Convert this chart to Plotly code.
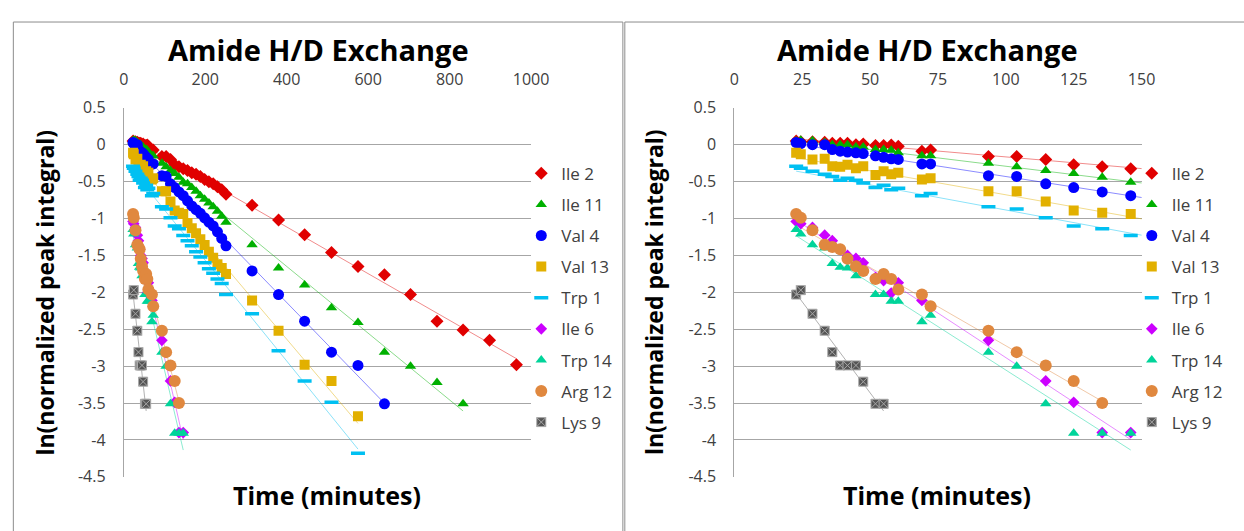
import numpy as np
import plotly.graph_objects as go

# ---------------- data ----------------
series_names = ["Ile 2", "Ile 11", "Val 4", "Val 13", "Trp 1", "Ile 6", "Trp 14", "Arg 12", "Lys 9"]

t_early = [22.8, 24.5, 28.8, 33.3, 36.1, 39.0, 41.7, 44.8, 47.5, 52.0, 55.0, 57.8, 60.4, 69.1, 72.3]
t_mid = [93.6, 104.0, 114.7, 125.0, 135.5, 146.0]
t_dense = [156.5, 167.0, 177.5, 188.0, 198.5, 209.0, 219.5, 230.0, 240.5, 251.0]
t_late = [315, 380, 444, 510, 575, 640, 704, 769, 833, 898, 964]

ile2_vals = [0.05, 0.04, 0.04, 0.035, 0.02, 0.02, 0.02, 0.0, 0.01, -0.01, -0.01, -0.005, -0.02, -0.09, -0.07,
             -0.16, -0.16, -0.20, -0.27, -0.30, -0.325,
             -0.35, -0.38, -0.40, -0.43, -0.47, -0.50, -0.53, -0.57, -0.61, -0.67,
             -0.82, -1.02, -1.22, -1.46, -1.65, -1.76, -2.03, -2.39, -2.51, -2.65, -2.98]
ile11_vals = [0.05, 0.06, 0.055, 0.03, 0.0, 0.0, 0.0, -0.03, -0.03, -0.065, -0.065, -0.075, -0.11, -0.15, -0.15,
              -0.25, -0.30, -0.35, -0.39, -0.44, -0.51,
              -0.53, -0.58, -0.63, -0.69, -0.74, -0.79, -0.84, -0.90, -0.97, -1.05,
              -1.355, -1.67, -1.90, -2.21, -2.41, -2.81, -3.00, -3.22, -3.51]
val4_vals = [0.03, 0.015, 0.0, 0.0, -0.065, -0.087, -0.10, -0.11, -0.12, -0.15, -0.17, -0.19, -0.20, -0.26, -0.26,
             -0.42, -0.43, -0.53, -0.58, -0.64, -0.69,
             -0.76, -0.83, -0.88, -0.93, -0.99, -1.05, -1.10, -1.18, -1.27, -1.37,
             -1.71, -2.03, -2.39, -2.81, -2.99, -3.51]
val13_vals = [-0.11, -0.13, -0.20, -0.19, -0.29, -0.30, -0.27, -0.32, -0.29, -0.41, -0.36, -0.40, -0.38, -0.47, -0.455,
              -0.63, -0.63, -0.77, -0.89, -0.92, -0.94,
              -1.06, -1.13, -1.20, -1.28, -1.36, -1.45, -1.53, -1.62, -1.67, -1.75,
              -2.11, -2.52, -2.98, -3.20, -3.68]
trp1_vals = [-0.29, -0.32, -0.36, -0.40, -0.43, -0.48, -0.455, -0.48, -0.52, -0.58, -0.55, -0.61, -0.59, -0.69, -0.66,
             -0.84, -0.87, -0.99, -1.10, -1.14, -1.23,
             -1.30, -1.37, -1.45, -1.52, -1.60, -1.68, -1.74, -1.82, -1.88, -2.03,
             -2.29, -2.79, -3.20, -3.49, -4.18]
ile6_vals = [-1.04, -1.07, -1.12, -1.225, -1.30, -1.42, -1.50, -1.54, -1.60, -1.80, -1.84, -2.01, -1.87, -2.11, -2.20,
             -2.65, None, -3.20, -3.49, -3.90, -3.90]
trp14_vals = [-1.15, -1.21, -1.355, -1.40, -1.61, -1.66, -1.67, -1.775, None, -2.03, -2.03, -2.12, -2.12, -2.40, -2.31,
              -2.81, -3.00, -3.51, -3.91, -3.91, -3.91]
arg12_vals = [-0.94, -0.99, -1.16, -1.355, -1.385, -1.415, -1.545, -1.645, -1.71, -1.82, -1.75, -1.82, -1.96, -2.03, -2.19,
              -2.52, -2.81, -2.99, -3.20, -3.50, None]
lys9_vals = [-2.03, -1.97, -2.29, -2.52, -2.81, -2.99, -2.99, -2.99, -3.21, -3.51, -3.51]

series_times = [
    t_early + t_mid + t_dense + t_late,
    t_early + t_mid + t_dense + t_late[:9],
    t_early + t_mid + t_dense + t_late[:6],
    t_early + t_mid + t_dense + t_late[:5],
    t_early + t_mid + t_dense + t_late[:5],
    t_early + t_mid,
    t_early + t_mid,
    t_early + t_mid,
    t_early[:11],
]
series_vals = [ile2_vals, ile11_vals, val4_vals, val13_vals, trp1_vals,
               ile6_vals, trp14_vals, arg12_vals, lys9_vals]

x_ticks_left = [0, 200, 400, 600, 800, 1000]
x_ticks_right = [0, 25, 50, 75, 100, 125, 150]
y_ticks = [0.5, 0, -0.5, -1, -1.5, -2, -2.5, -3, -3.5, -4, -4.5]
y_tick_labels = ["0.5", "0", "-0.5", "-1", "-1.5", "-2", "-2.5", "-3", "-3.5", "-4", "-4.5"]

chart_title = "Amide H/D Exchange"
x_title = "Time (minutes)"
y_title = "ln(normalized peak integral)"

# ---------------- styles ----------------
colors = ["#E00000", "#00B000", "#0000FF", "#E2B000", "#00C0F2", "#CC00FF", "#00D49A", "#E0883F", "#555555"]
symbols = ["diamond", "triangle-up", "circle", "square", "line-ew", "diamond", "triangle-up", "circle", "square-x"]
sizes = [10, 10, 11, 10, 10, 9, 10, 12, 9]

W, H = 1244, 531
FONT = "Open Sans"

def px_x(p):
    return p / W

def px_y(p):
    return 1 - p / H

fig = go.Figure()

panels = [("x", "y", "legend"), ("x2", "y2", "legend2")]
for xa, ya, lg in panels:
    # trendlines (linear fits of each series)
    for i, name in enumerate(series_names):
        t = np.array([a for a, b in zip(series_times[i], series_vals[i]) if b is not None], dtype=float)
        v = np.array([b for b in series_vals[i] if b is not None], dtype=float)
        k, c = np.polyfit(t, v, 1)
        xs = np.array([t.min(), t.max()])
        fig.add_trace(go.Scatter(x=xs, y=k * xs + c, mode="lines", xaxis=xa, yaxis=ya,
                                 line=dict(color=colors[i], width=1), opacity=0.45,
                                 showlegend=False, hoverinfo="skip"))
    # markers
    for i, name in enumerate(series_names):
        if symbols[i] == "line-ew":
            mk = dict(symbol="line-ew", size=sizes[i], color=colors[i],
                      line=dict(color=colors[i], width=3.5))
        elif symbols[i] == "square-x":
            mk = dict(symbol="square-x", size=sizes[i], color=colors[i],
                      line=dict(color="#A8A8A8", width=1))
        else:
            mk = dict(symbol=symbols[i], size=sizes[i], color=colors[i], line=dict(width=0))
        fig.add_trace(go.Scatter(x=series_times[i], y=series_vals[i], mode="markers",
                                 name=name, xaxis=xa, yaxis=ya, legend=lg,
                                 legendgroup=name + lg, marker=mk))

grid_col = "#A6A6A6"
tickfont = dict(family=FONT, size=16, color="#404040")

common_y = dict(range=[-4.5, 0.5], tickvals=y_ticks, ticktext=y_tick_labels, showgrid=True,
                gridcolor=grid_col, gridwidth=1, zeroline=False, showline=True, linecolor=grid_col,
                linewidth=1, ticks="", tickfont=tickfont, ticklabelstandoff=14,
                domain=[1 - 486 / H, 1 - 101 / H])
common_x = dict(side="top", showgrid=False, zeroline=False, showline=False, ticks="",
                tickfont=tickfont, ticklabelstandoff=19)

fig.update_layout(
    width=W, height=H, margin=dict(l=0, r=0, t=0, b=0),
    paper_bgcolor="white", plot_bgcolor="white",
    font=dict(family=FONT, color="#404040"),
    xaxis=dict(common_x, range=[0, 1000], tickvals=x_ticks_left,
               ticktext=[str(v) for v in x_ticks_left], domain=[px_x(121), px_x(536)], anchor="y"),
    yaxis=dict(common_y, anchor="x"),
    xaxis2=dict(common_x, range=[0, 150], tickvals=x_ticks_right,
                ticktext=[str(v) for v in x_ticks_right], domain=[px_x(743), px_x(1158)], anchor="y2"),
    yaxis2=dict(common_y, anchor="x2"),
    legend=dict(x=px_x(526), y=px_y(151), xanchor="left", yanchor="top",
                font=dict(family=FONT, size=17, color="#404040"), tracegroupgap=6,
                bgcolor="rgba(0,0,0,0)"),
    legend2=dict(x=px_x(1148), y=px_y(151), xanchor="left", yanchor="top",
                 font=dict(family=FONT, size=17, color="#404040"), tracegroupgap=6,
                 bgcolor="rgba(0,0,0,0)"),
    showlegend=True,
)

annos = []
for cx, xc in [(319, 328), (940, 950)]:
    annos.append(dict(text="<b>" + chart_title + "</b>", x=px_x(cx), y=px_y(40), xref="paper", yref="paper",
                      showarrow=False, font=dict(family=FONT, size=29, color="black"),
                      xanchor="center", yanchor="middle"))
    annos.append(dict(text="<b>" + x_title + "</b>", x=px_x(xc), y=px_y(505), xref="paper", yref="paper",
                      showarrow=False, font=dict(family=FONT, size=25, color="black"),
                      xanchor="center", yanchor="middle"))
for yx in [41, 662]:
    annos.append(dict(text="<b>" + y_title + "</b>", x=px_x(yx), y=px_y(293.5), xref="paper", yref="paper",
                      showarrow=False, textangle=-90, font=dict(family=FONT, size=23, color="black"),
                      xanchor="center", yanchor="middle"))
fig.update_layout(annotations=annos)

fig.update_layout(shapes=[
    dict(type="rect", xref="paper", yref="paper", x0=px_x(8.5), x1=px_x(629.5), y0=-0.1, y1=px_y(11.5),
         line=dict(color="#8C8C8C", width=1), fillcolor="rgba(0,0,0,0)", layer="below"),
    dict(type="rect", xref="paper", yref="paper", x0=px_x(631.5), x1=1.1, y0=-0.1, y1=px_y(11.5),
         line=dict(color="#8C8C8C", width=1), fillcolor="rgba(0,0,0,0)", layer="below"),
])

fig.write_html("out.html", config={"displayModeBar": False},
               post_script="document.body.style.margin='0px';document.body.style.overflow='hidden';")
